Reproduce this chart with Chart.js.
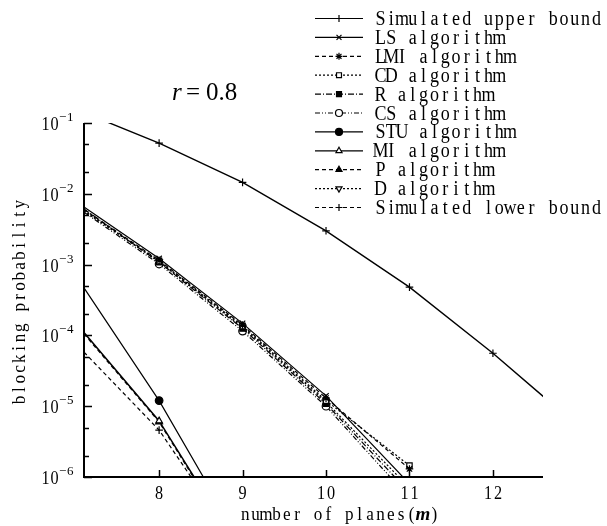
<!DOCTYPE html>
<html>
<head>
<meta charset="utf-8">
<script src="https://cdn.jsdelivr.net/npm/chart.js@4.4.1/dist/chart.umd.min.js"></script>
<style>
  html, body { margin: 0; padding: 0; background: #fff; }
  canvas { display: block; }
</style>
</head>
<body>
<canvas id="graph" width="607" height="526"></canvas>
<script>
// number of planes (x positions of the read points)
const mMid = [7.1, 8, 9, 10, 11];
const mLow = [7.1, 8, 9];
const mUpper = [7.38, 8, 9, 10, 11, 12, 12.61];

// blocking probability
const upperBound = [0.103, 0.052, 0.0145, 0.003, 4.8e-4, 5.6e-5, 1.35e-5];
const lsAlg  = [6.5e-3, 1.22e-3, 1.48e-4, 1.4e-5, 8e-7];
const lmiAlg = [6.0e-3, 1.15e-3, 1.4e-4, 1.3e-5, 1.3e-6];
const cdAlg  = [5.8e-3, 1.12e-3, 1.35e-4, 1.2e-5, 1.45e-6];
const rAlg   = [6.1e-3, 1.08e-3, 1.25e-4, 1.08e-5, 6e-7];
const csAlg  = [5.5e-3, 1.02e-3, 1.15e-4, 1.0e-5, 5e-7];
const stuAlg = [4.7e-4, 1.2e-5, 1.1e-7];
const miAlg  = [1.1e-4, 6.2e-6, 8e-8];
const pAlg   = [1.05e-4, 6e-6, 7.5e-8];
const dAlg   = [5.7e-3, 1.1e-3, 1.3e-4, 1.15e-5, 7e-7];
const lowerBound = [5.8e-5, 4.6e-6, 8.5e-8];

const xTicks = [8, 9, 10, 11, 12];
const yDecades = [-6, -5, -4, -3, -2, -1];

const serif = '"Liberation Serif", "DejaVu Serif", serif';

function series(label, xs, ys, pointStyle, dash, filled, rotation, width) {
  return {
    label: label,
    data: xs.map((x, i) => ({ x: x, y: ys[i] })),
    borderColor: '#000',
    borderWidth: width || 1.2,
    borderDash: dash,
    pointStyle: pointStyle,
    pointRotation: rotation || 0,
    pointBackgroundColor: filled ? '#000' : '#fff',
    pointBorderColor: '#000',
    pointBorderWidth: 1.2,
    pointRadius: c => (c.raw && Number.isInteger(c.raw.x)) ? 3.8 : 0,
    pointHoverRadius: 0,
    tension: 0,
    fill: false,
  };
}

const datasets = [
  series('Simulated upper bound', mUpper, upperBound, 'cross', [], false, 0, 1.4),
  series('LS algorithm', mMid, lsAlg, 'crossRot', [], false),
  series('LMI algorithm', mMid, lmiAlg, 'star', [4, 3], false),
  series('CD algorithm', mMid, cdAlg, 'rect', [2, 2], false),
  series('R algorithm', mMid, rAlg, 'rect', [6, 2, 1, 2], true),
  series('CS algorithm', mMid, csAlg, 'circle', [5, 2, 1, 2, 1, 2], false),
  series('STU algorithm', mLow, stuAlg, 'circle', [], true),
  series('MI algorithm', mLow, miAlg, 'triangle', [], false, 0, 1.5),
  series('P algorithm', mLow, pAlg, 'triangle', [4, 3], true),
  series('D algorithm', mMid, dAlg, 'triangle', [2, 2], false, 180),
  series('Simulated lower bound', mLow, lowerBound, 'cross', [4, 3], false),
];

// draw text one character per fixed cell, slightly condensed
function spacedText(ctx, text, x, y, adv, squeeze) {
  for (let i = 0; i < text.length; i++) {
    ctx.save();
    ctx.translate(x + i * adv + adv / 2, y);
    ctx.scale(squeeze, 1);
    ctx.textAlign = 'center';
    ctx.fillText(text[i], 0, 0);
    ctx.restore();
  }
}

const decor = {
  id: 'decor',
  afterDraw(chart) {
    const { ctx, chartArea: a, scales } = chart;
    const xs = scales.x, ys = scales.y;
    ctx.save();
    ctx.strokeStyle = '#000';
    ctx.fillStyle = '#000';
    ctx.setLineDash([]);

    // axes
    ctx.lineWidth = 2;
    ctx.beginPath();
    ctx.moveTo(a.left, a.top);
    ctx.lineTo(a.left, a.bottom);
    ctx.lineTo(a.right, a.bottom);
    ctx.stroke();

    // ticks, inward
    ctx.lineWidth = 1.5;
    ctx.beginPath();
    xTicks.forEach(m => {
      const px = Math.round(xs.getPixelForValue(m)) + 0.5;
      ctx.moveTo(px, a.bottom);
      ctx.lineTo(px, a.bottom - 7);
    });
    yDecades.forEach(d => {
      const py = Math.round(ys.getPixelForValue(Math.pow(10, d))) + 0.5;
      ctx.moveTo(a.left, py);
      ctx.lineTo(a.left + 8, py);
      if (d < -1) {
        [2, 5].forEach(k => {
          const pm = Math.round(ys.getPixelForValue(k * Math.pow(10, d))) + 0.5;
          ctx.moveTo(a.left, pm);
          ctx.lineTo(a.left + 5, pm);
        });
      }
    });
    ctx.stroke();

    // x tick labels
    ctx.font = '18px ' + serif;
    ctx.textBaseline = 'alphabetic';
    xTicks.forEach(m => {
      const s = String(m);
      const adv = 10;
      spacedText(ctx, s, xs.getPixelForValue(m) - s.length * adv / 2, 499, adv, 0.9);
    });

    // y tick labels 10^d
    yDecades.forEach(d => {
      const py = ys.getPixelForValue(Math.pow(10, d));
      ctx.font = '18px ' + serif;
      spacedText(ctx, '10', 41, py + 7, 9, 0.9);
      ctx.font = '13px ' + serif;
      spacedText(ctx, '\u2212' + (-d), 59, py - 2, 7.5, 1);
    });

    // axis titles
    ctx.font = '19px ' + serif;
    spacedText(ctx, 'number of planes(', 240, 520, 10.4, 0.9);
    ctx.font = 'italic bold 19px ' + serif;
    ctx.textAlign = 'center';
    ctx.fillText('m', 240 + 17 * 10.4 + 6, 520);
    ctx.font = '19px ' + serif;
    spacedText(ctx, ')', 240 + 18 * 10.4 + 2, 520, 10.4, 0.9);

    ctx.save();
    ctx.translate(25, 405);
    ctx.rotate(-Math.PI / 2);
    ctx.font = '19px ' + serif;
    spacedText(ctx, 'blocking probability', 0, 0, 10.3, 0.9);
    ctx.restore();

    // panel label
    ctx.textAlign = 'left';
    ctx.font = 'italic 25px ' + serif;
    ctx.fillText('r', 172, 100);
    ctx.font = '25px ' + serif;
    ctx.fillText('=', 186, 100);
    ctx.fillText('0.8', 206, 100);

    // legend
    chart.data.datasets.forEach((ds, i) => {
      const cy = 18 + i * 18.9;
      ctx.lineWidth = 1.2;
      ctx.setLineDash(ds.borderDash);
      ctx.beginPath();
      ctx.moveTo(315, cy + 0.5);
      ctx.lineTo(363, cy + 0.5);
      ctx.stroke();
      ctx.setLineDash([]);
      ctx.fillStyle = ds.pointBackgroundColor;
      Chart.helpers.drawPoint(ctx, {
        pointStyle: ds.pointStyle,
        rotation: ds.pointRotation,
        radius: 3.5,
        borderWidth: 1,
      }, 339, cy + 0.5);
      ctx.fillStyle = '#000';
      ctx.font = '20px ' + serif;
      spacedText(ctx, ds.label, 375, cy + 7, 10.8, 0.9);
    });

    ctx.restore();
  }
};

const chartOptions = {
  type: 'line',
  data: { datasets: datasets },
  options: {
    responsive: false,
    animation: false,
    devicePixelRatio: 1,
    layout: { padding: { top: 123, right: 64, left: 0, bottom: 0 } },
    scales: {
      x: {
        type: 'linear',
        min: 7.1,
        max: 12.6,
        ticks: { display: false },
        grid: { display: false },
        border: { display: false },
        afterFit: s => { s.height = 49; },
      },
      y: {
        type: 'logarithmic',
        min: 1e-6,
        max: 1e-1,
        ticks: { display: false },
        grid: { display: false },
        border: { display: false },
        afterFit: s => { s.width = 84; },
      },
    },
    plugins: {
      legend: { display: false },
      tooltip: { enabled: false },
    },
  },
  plugins: [decor],
};

const ctx = document.getElementById('graph').getContext('2d');
const lineChart = new Chart(ctx, chartOptions);
</script>
</body>
</html>
